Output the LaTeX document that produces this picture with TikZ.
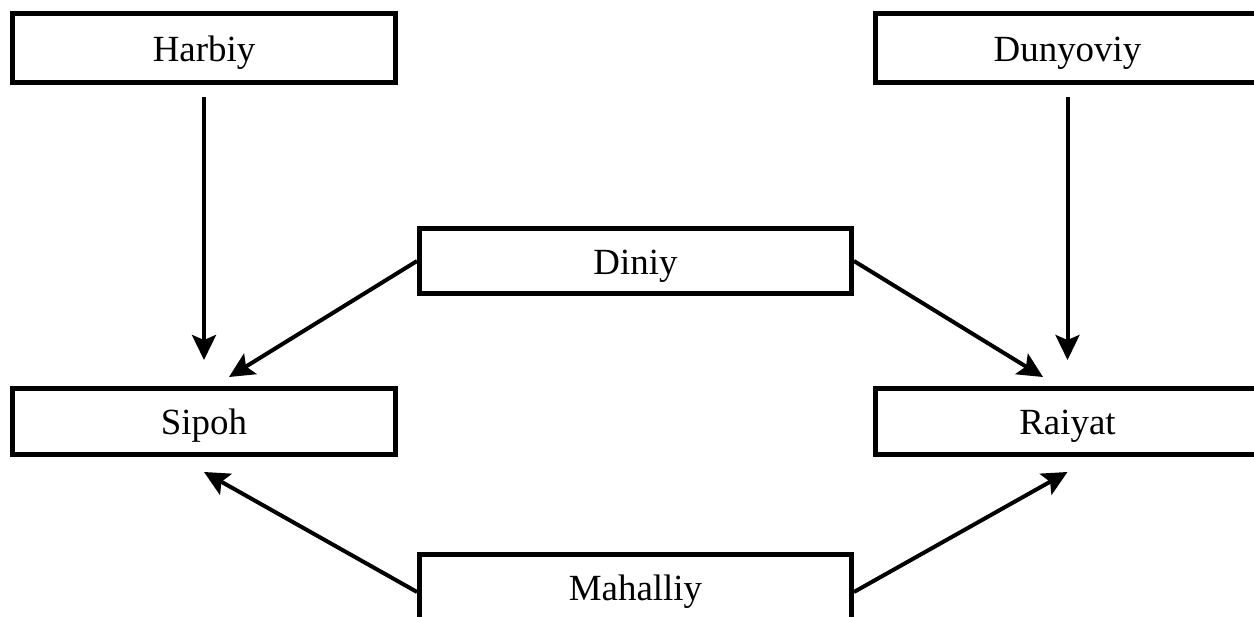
\documentclass[tikz,border=0pt]{standalone}
\usepackage{fontspec}
\setmainfont{Liberation Serif}
\usetikzlibrary{arrows.meta,calc}
\begin{document}
\begin{tikzpicture}[x=0.02cm,y=-0.02cm,
  box/.style={draw=black,line width=0.1cm,fill=white,inner sep=0pt,
    text height=0.54cm,text depth=0cm,
    font=\fontsize{21}{25}\selectfont},
  widebox/.style={box,minimum width=7.68cm,minimum height=1.38cm},
  sidebox/.style={box,minimum width=7.68cm,minimum height=1.32cm},
  midbox/.style={box,minimum width=8.64cm,minimum height=1.30cm},
  arr/.style={line width=0.08cm,-{Stealth[length=0.5cm,width=0.48cm,inset=0.1cm]}}]
\useasboundingbox (0,0) rectangle (1254,617);
\clip (0,0) rectangle (1254,617);
\node[widebox] (harbiy) at (204,48.5) {Harbiy};
\node[widebox] (dunyoviy) at (1067.5,48.5) {Dunyoviy};
\node[midbox] (diniy) at (635.5,261) {Diniy};
\node[sidebox] (sipoh) at (204,421.5) {Sipoh};
\node[sidebox] (raiyat) at (1067.5,421.5) {Raiyat};
\node[midbox] (mahalliy) at (635.5,587) {Mahalliy};
\draw[arr,shorten <=0.23cm,shorten >=0.52cm] (harbiy.south) -- (sipoh.north);
\draw[arr,shorten <=0.23cm,shorten >=0.52cm] (dunyoviy.south) -- (raiyat.north);
\draw[arr] (diniy.west) -- ([xshift=0.5cm,yshift=0.18cm]sipoh.north);
\draw[arr] (diniy.east) -- ([xshift=-0.49cm,yshift=0.18cm]raiyat.north);
\draw[arr] ([yshift=-0.1cm]mahalliy.west) -- ([yshift=-0.3cm]sipoh.south);
\draw[arr] ([yshift=-0.1cm]mahalliy.east) -- ([yshift=-0.3cm]raiyat.south);
\end{tikzpicture}
\end{document}
